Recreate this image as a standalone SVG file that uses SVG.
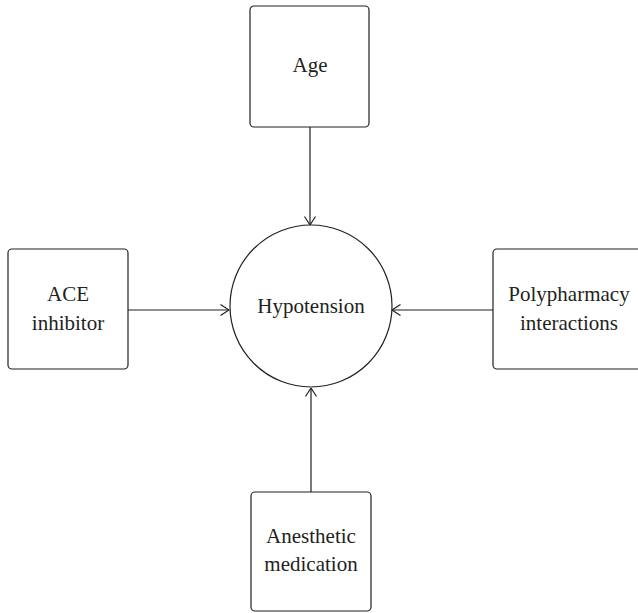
<svg xmlns="http://www.w3.org/2000/svg" width="638" height="613" viewBox="0 0 638 613">
<style>
.box{fill:#fff;stroke:#231f20;stroke-width:1.2}
.t{font-family:"Liberation Serif","Times New Roman",serif;font-size:21px;fill:#231f20;text-anchor:middle}
.c{stroke:#231f20;stroke-width:1.2;fill:none}
</style>
<defs>
<marker id="ah" viewBox="0 0 10 12" refX="9.5" refY="6" markerWidth="10" markerHeight="12" markerUnits="userSpaceOnUse" orient="auto">
<path d="M1,0.5 L9.5,6 L1,11.5" fill="none" stroke="#231f20" stroke-width="1.2"/>
</marker>
</defs>
<rect width="638" height="613" fill="#fff"/>
<g id="connectors">
<line class="c" x1="310" y1="127" x2="310" y2="225" marker-end="url(#ah)"/>
<line class="c" x1="128" y1="310" x2="229" y2="310" marker-end="url(#ah)"/>
<line class="c" x1="493" y1="310" x2="392" y2="310" marker-end="url(#ah)"/>
<line class="c" x1="311" y1="492" x2="311" y2="388" marker-end="url(#ah)"/>
</g>
<g id="hypotension">
<circle class="box" cx="311" cy="306" r="81"/>
<text class="t" x="311" y="313">Hypotension</text>
</g>
<g id="age">
<rect class="box" x="250" y="6" width="119" height="121" rx="4"/>
<text class="t" x="310" y="72">Age</text>
</g>
<g id="ace">
<rect class="box" x="8" y="249" width="120" height="120" rx="4"/>
<text class="t" x="68" y="301">ACE</text>
<text class="t" x="68" y="330">inhibitor</text>
</g>
<g id="poly">
<rect class="box" x="493" y="249" width="152" height="120" rx="4"/>
<text class="t" x="569" y="301">Polypharmacy</text>
<text class="t" x="569" y="330">interactions</text>
</g>
<g id="anesthetic">
<rect class="box" x="251" y="492" width="120" height="119" rx="4"/>
<text class="t" x="311" y="543">Anesthetic</text>
<text class="t" x="311" y="571">medication</text>
</g>
</svg>
